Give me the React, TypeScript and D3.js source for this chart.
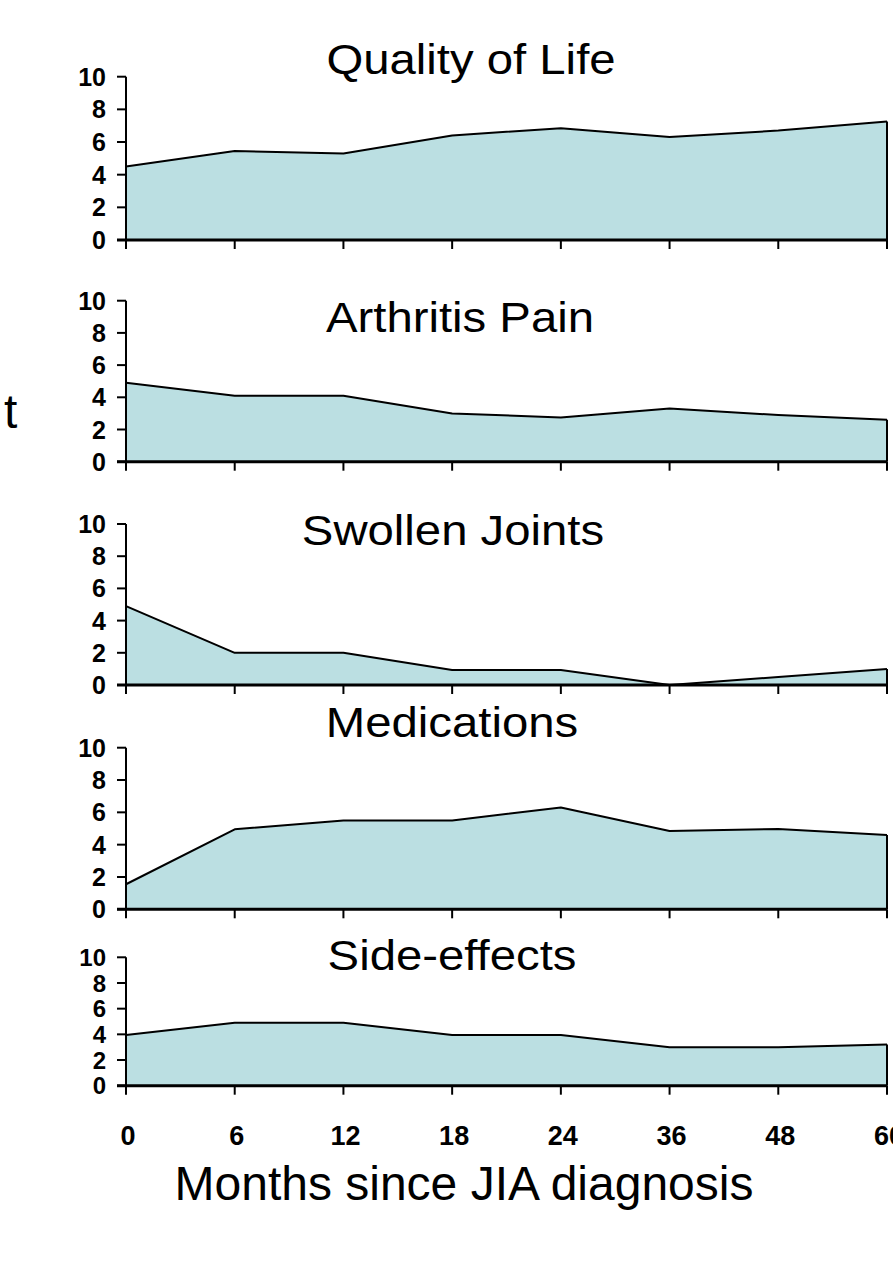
import React from "react";
import * as d3 from "d3";

const months = ["0", "6", "12", "18", "24", "36", "48", "60"];
const panelTitles = ["Quality of Life", "Arthritis Pain", "Swollen Joints", "Medications", "Side-effects"];
const qualityOfLife = [4.5, 5.45, 5.3, 6.4, 6.85, 6.3, 6.7, 7.25];
const arthritisPain = [4.9, 4.1, 4.1, 3.0, 2.75, 3.3, 2.9, 2.6];
const swollenJoints = [4.9, 2.0, 2.0, 0.93, 0.93, 0.0, 0.5, 1.0];
const medications = [1.55, 4.95, 5.5, 5.5, 6.3, 4.85, 4.97, 4.6];
const sideEffects = [3.95, 4.9, 4.9, 3.95, 3.95, 3.0, 3.0, 3.2];
const yTicks = [0, 2, 4, 6, 8, 10];
const xAxisTitle = "Months since JIA diagnosis";
const sideLabel = "t";

const series = [qualityOfLife, arthritisPain, swollenJoints, medications, sideEffects];

// layout (pixel positions) kept apart from data
const layout = [
  { top: 76.7, bottom: 240, titleY: 74, titleX: 471 },
  { top: 300.7, bottom: 461.7, titleY: 332, titleX: 460 },
  { top: 524, bottom: 685, titleY: 545, titleX: 453 },
  { top: 747.7, bottom: 909.3, titleY: 737, titleX: 452 },
  { top: 957.3, bottom: 1085.7, titleY: 970, titleX: 452 },
];

const W = 893;
const H = 1261;
const X0 = 126;
const X1 = 887;
const FILL = "#bbdfe2";
const TITLE_STRETCH = 1.1;

export default function App() {
  const x = d3.scalePoint<string>().domain(months).range([X0, X1]);

  return (
    <svg
      width={W}
      height={H}
      viewBox={`0 0 ${W} ${H}`}
      style={{ position: "absolute", left: 0, top: 0, display: "block", background: "#fff" }}
      fontFamily="'Liberation Sans', Arial, sans-serif"
    >
      {series.map((vals, i) => {
        const L = layout[i];
        const y = d3.scaleLinear().domain([0, 10]).range([L.bottom, L.top]);
        const pts = months.map((m, j) => ({ m, v: vals[j] }));
        const area = d3
          .area<{ m: string; v: number }>()
          .x((d) => x(d.m) as number)
          .y0(y(0))
          .y1((d) => y(d.v));
        const line = d3
          .line<{ m: string; v: number }>()
          .x((d) => x(d.m) as number)
          .y((d) => y(d.v));
        const lastX = x(months[months.length - 1]) as number;
        const lastV = vals[vals.length - 1];
        return (
          <g key={i}>
            <path d={area(pts) || ""} fill={FILL} stroke="none" />
            <path d={line(pts) || ""} fill="none" stroke="#000" strokeWidth={2} strokeLinejoin="round" />
            <line x1={lastX} x2={lastX} y1={y(lastV)} y2={y(0)} stroke="#000" strokeWidth={2} />
            {/* y axis */}
            <line x1={X0} x2={X0} y1={y(10)} y2={y(0)} stroke="#000" strokeWidth={2} />
            {yTicks.map((t) => (
              <g key={t}>
                <line x1={X0 - 9} x2={X0} y1={y(t)} y2={y(t)} stroke="#000" strokeWidth={2} />
                <text
                  x={106}
                  y={y(t)}
                  dy="0.36em"
                  textAnchor="end"
                  fontWeight="bold"
                  fontSize={i === 4 ? 24 : 25}
                  fill="#000"
                >
                  {t}
                </text>
              </g>
            ))}
            {/* x axis */}
            <line x1={X0 - 9} x2={X1} y1={y(0)} y2={y(0)} stroke="#000" strokeWidth={3} />
            {months.map((m) => (
              <line
                key={m}
                x1={x(m) as number}
                x2={x(m) as number}
                y1={y(0)}
                y2={y(0) + 9}
                stroke="#000"
                strokeWidth={2}
              />
            ))}
            <text
              transform={`translate(${L.titleX},${L.titleY}) scale(${TITLE_STRETCH},1)`}
              textAnchor="middle"
              fontSize={43}
              fill="#000"
            >
              {panelTitles[i]}
            </text>
          </g>
        );
      })}
      {months.map((m) => (
        <text
          key={m}
          x={(x(m) as number) + 2}
          y={1145}
          textAnchor="middle"
          fontWeight="bold"
          fontSize={27}
          fill="#000"
        >
          {m}
        </text>
      ))}
      <text x={464} y={1200} textAnchor="middle" fontSize={48} fill="#000">
        {xAxisTitle}
      </text>
      <text x={4} y={428} fontSize={48} fill="#000">
        {sideLabel}
      </text>
    </svg>
  );
}
